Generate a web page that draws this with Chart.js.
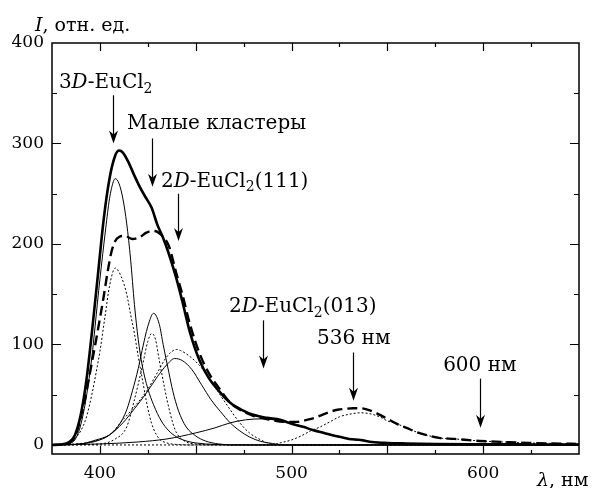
<!DOCTYPE html>
<html lang="ru">
<head>
    <meta charset="UTF-8">
    <title>Спектр люминесценции EuCl2</title>
    <script src="https://cdn.jsdelivr.net/npm/chart.js"></script>
    <style>
        html, body { margin: 0; padding: 0; background: #fff; }
        #chartContainer { width: 596px; height: 488px; }
    </style>
</head>
<body>
    <div id="chartContainer">
        <canvas id="myChart" width="596" height="488"></canvas>
    </div>
    <script>
        // wavelength (nm) and intensity (arb. units)

        // thick solid - measured spectrum
        const totalX = [375, 380, 384, 387, 390, 393, 396, 399, 402, 405, 408, 410, 412, 415, 418, 421, 424, 427, 430, 433, 436, 440, 443, 447, 452, 457, 462, 468, 474, 480, 487, 494, 500, 506, 511, 517, 523, 530, 536, 542, 550, 560, 575, 600, 625, 650];
        const totalY = [0, 0.5, 3, 10, 30, 65, 115, 170, 225, 265, 288, 293, 291, 281, 268, 256, 246, 236, 219, 206, 190, 165, 143, 112, 84, 66, 54, 42, 35, 30, 27, 25, 21, 18, 15, 12, 9, 6, 5, 3, 2, 1.5, 1, 0.7, 0.5, 0.3];

        // thick dashed - second spectrum
        const dashX = [375, 380, 386, 391, 396, 399, 402, 404, 406, 408, 410, 413, 417, 421, 424, 427, 430, 433, 436, 440, 443, 447, 452, 457, 462, 468, 474, 480, 489, 496, 503, 508, 512, 516, 520, 524, 528, 532, 536, 540, 545, 550, 555, 560, 565, 570, 577, 585, 598, 610, 623, 636, 650];
        const dashY = [0, 0.5, 5, 35, 84, 115, 148, 172, 192, 203, 207, 208, 205, 207, 211, 213, 212, 207, 198, 170, 150, 120, 91, 71, 57, 42, 34, 29, 25, 23, 23, 25, 27, 30, 33, 35, 36, 36.5, 36.5, 35, 31, 26, 21, 17, 13, 10, 7, 6, 4, 3, 2, 1.5, 1];

        // thin solid components
        const comp1X = [375, 385, 390, 395, 400, 403, 405, 407, 408, 410, 412, 414, 416, 418, 420, 422, 425, 428, 432, 436, 440, 445, 450, 460, 475, 650];
        const comp1Y = [0, 2, 20, 75, 165, 215, 245, 262, 265, 260, 245, 220, 185, 140, 105, 80, 56, 40, 24, 14, 8, 4, 2, 0.5, 0, 0];

        const comp2X = [375, 390, 400, 405, 410, 414, 417, 420, 422, 425, 428, 431, 433, 436, 438, 441, 445, 450, 455, 462, 470, 650];
        const comp2Y = [0, 1, 5, 10, 20, 35, 54, 76, 94, 118, 131, 120, 100, 72, 54, 34, 18, 9, 4, 1, 0, 0];

        const comp3X = [375, 390, 398, 405, 412, 418, 424, 430, 435, 439, 443, 448, 453, 458, 463, 468, 473, 478, 484, 490, 497, 650];
        const comp3Y = [0, 1, 5, 10, 22, 36, 51, 68, 80, 86, 84, 75, 60, 45, 33, 22, 14, 8, 3.5, 1.5, 0, 0];

        const comp4X = [375, 400, 420, 435, 450, 460, 468, 476, 485, 494, 503, 511, 520, 530, 540, 550, 565, 590, 650];
        const comp4Y = [0, 1, 3, 6, 12, 17, 22, 25, 26, 24, 20, 15, 10, 6, 3.5, 2, 1, 0.3, 0];

        // dotted components
        const dot1X = [375, 382, 386, 390, 393, 396, 398.5, 400, 402.6, 405, 408, 411, 414, 416, 418, 420, 422, 424, 426, 428, 431, 435, 440, 450, 650];
        const dot1Y = [0, 1, 5, 14, 28, 52, 77, 93, 127, 158, 176, 168, 150, 130, 111, 88, 67, 46, 28, 16, 6, 2, 0.5, 0, 0];

        const dot2X = [375, 400, 408, 414, 418, 422, 425, 427, 429, 431, 433, 435, 438, 440, 445, 450, 460, 650];
        const dot2Y = [0, 1, 6, 18, 45, 77, 103, 111, 105, 84, 64, 45, 22, 12, 3, 1, 0, 0];

        const dot3X = [375, 395, 405, 412, 418, 424.5, 430, 435, 440, 442, 447, 452, 457, 462, 468, 473, 478, 484, 489, 495, 650];
        const dot3Y = [0, 3, 10, 25, 38, 54, 72, 88, 95, 94, 88, 79, 67, 52, 35, 22, 12, 5, 1, 0, 0];

        const dot4X = [375, 490, 494, 500, 505, 510, 515, 520, 525, 530, 536, 541, 546, 550, 555, 560, 565, 570, 577, 585, 598, 610, 623, 636, 650];
        const dot4Y = [0, 0, 2, 5, 9, 14, 18, 23, 28, 30.5, 32, 31, 28, 24, 21, 17, 13, 10, 7, 6, 4, 3, 2, 1.5, 1];

        // axis ticks
        const xTicks = [400, 500, 600];
        const yTicks = [0, 100, 200, 300, 400];

        // labels with arrows (x, y of text start; arrow from yFrom down to yTo)
        const notes = [
            { x: 378.6, y: 355, parts: [['3'], ['D', 'i'], ['-EuCl'], ['2', 's']] },
            { x: 414.1, y: 314, parts: [['Малые кластеры']] },
            { x: 431.9, y: 257, parts: [['2'], ['D', 'i'], ['-EuCl'], ['2', 's'], ['(111)']] },
            { x: 467.4, y: 132, parts: [['2'], ['D', 'i'], ['-EuCl'], ['2', 's'], ['(013)']] },
            { x: 513.3, y: 100, parts: [['536 нм']] },
            { x: 579.1, y: 74, parts: [['600 нм']] }
        ];
        const arrows = [
            { x: 406.8, yFrom: 348, yTo: 300 },
            { x: 427.2, yFrom: 305, yTo: 257 },
            { x: 440.7, yFrom: 250, yTo: 203 },
            { x: 485.1, yFrom: 124, yTo: 76 },
            { x: 532.1, yFrom: 92, yTo: 44 },
            { x: 598.4, yFrom: 66, yTo: 17 }
        ];

        const FONT = '"DejaVu Serif", serif';

        function pts(xs, ys) {
            return xs.map((x, i) => ({ x: x, y: ys[i] }));
        }

        function line(xs, ys, width, dash, order) {
            return {
                data: pts(xs, ys),
                borderColor: '#000',
                borderWidth: width,
                borderDash: dash,
                pointRadius: 0,
                fill: false,
                cubicInterpolationMode: 'monotone',
                order: order
            };
        }

        // text with italic / subscript parts
        function drawRich(ctx, parts, x, y, size) {
            let cx = x;
            ctx.textBaseline = 'alphabetic';
            ctx.textAlign = 'left';
            for (const p of parts) {
                const sub = p[1] === 's';
                const s = sub ? Math.round(size * 0.7) : size;
                ctx.font = (p[1] === 'i' ? 'italic ' : '') + s + 'px ' + FONT;
                ctx.fillText(p[0], cx, sub ? y + size * 0.22 : y);
                cx += ctx.measureText(p[0]).width;
            }
        }

        const framePlugin = {
            id: 'frame',
            afterDatasetsDraw(chart) {
                const { ctx, chartArea: a, scales: { x, y } } = chart;
                ctx.save();
                ctx.strokeStyle = '#000';
                ctx.fillStyle = '#000';

                // box
                ctx.lineWidth = 1.5;
                ctx.strokeRect(a.left, a.top, a.right - a.left, a.bottom - a.top);

                // inward ticks on all four sides
                ctx.lineWidth = 1.2;
                ctx.beginPath();
                for (let v = 400; v < 650; v += 25) {
                    const len = v % 50 === 0 ? 8 : 4;
                    const px = Math.round(x.getPixelForValue(v)) + 0.5;
                    ctx.moveTo(px, a.bottom); ctx.lineTo(px, a.bottom - len);
                    ctx.moveTo(px, a.top); ctx.lineTo(px, a.top + len);
                }
                for (let v = 0; v < 400; v += 50) {
                    const len = v % 100 === 0 ? 9 : 5;
                    const py = Math.round(y.getPixelForValue(v)) + 0.5;
                    ctx.moveTo(a.left, py); ctx.lineTo(a.left + len, py);
                    ctx.moveTo(a.right, py); ctx.lineTo(a.right - len, py);
                }
                ctx.stroke();

                // arrows
                ctx.lineWidth = 1.2;
                for (const ar of arrows) {
                    const px = Math.round(x.getPixelForValue(ar.x)) + 0.5;
                    const y0 = y.getPixelForValue(ar.yFrom);
                    const y1 = y.getPixelForValue(ar.yTo);
                    ctx.beginPath();
                    ctx.moveTo(px, y0);
                    ctx.lineTo(px, y1 - 8);
                    ctx.stroke();
                    ctx.beginPath();
                    ctx.moveTo(px, y1);
                    ctx.lineTo(px - 4.5, y1 - 13);
                    ctx.lineTo(px, y1 - 9);
                    ctx.lineTo(px + 4.5, y1 - 13);
                    ctx.closePath();
                    ctx.fill();
                }

                // annotations
                for (const n of notes) {
                    drawRich(ctx, n.parts, x.getPixelForValue(n.x), y.getPixelForValue(n.y), 20);
                }

                // axis titles
                drawRich(ctx, [['I', 'i'], [', отн. ед.']], a.left - 17, a.top - 12, 19);
                drawRich(ctx, [['λ', 'i'], [', нм']], a.right - 42, a.bottom + 32, 19);
                ctx.restore();
            }
        };

        const ctx = document.getElementById('myChart').getContext('2d');
        const myChart = new Chart(ctx, {
            type: 'line',
            data: {
                datasets: [
                    line(totalX, totalY, 2.6, [], 0),
                    line(dashX, dashY, 2.4, [10, 5], 1),
                    line(comp1X, comp1Y, 1, [], 2),
                    line(comp2X, comp2Y, 1, [], 2),
                    line(comp3X, comp3Y, 1, [], 2),
                    line(comp4X, comp4Y, 1, [], 2),
                    line(dot1X, dot1Y, 1, [2, 2], 3),
                    line(dot2X, dot2Y, 1, [2, 2], 3),
                    line(dot3X, dot3Y, 1, [2, 2], 3),
                    line(dot4X, dot4Y, 1, [2, 2], 3)
                ]
            },
            options: {
                responsive: false,
                animation: false,
                layout: { padding: { top: 43, right: 17, left: 0, bottom: 0 } },
                plugins: {
                    legend: { display: false },
                    tooltip: { enabled: false }
                },
                scales: {
                    x: {
                        type: 'linear',
                        min: 375,
                        max: 650,
                        grid: { display: false, drawTicks: false, tickLength: 0 },
                        border: { display: false },
                        afterBuildTicks: (s) => { s.ticks = xTicks.map(v => ({ value: v })); },
                        afterFit: (s) => { s.height = 34; },
                        ticks: {
                            color: '#000',
                            padding: 9,
                            maxRotation: 0,
                            font: { family: FONT, size: 17 }
                        }
                    },
                    y: {
                        min: -9,
                        max: 400,
                        grid: { display: false, drawTicks: false, tickLength: 0 },
                        border: { display: false },
                        afterBuildTicks: (s) => { s.ticks = yTicks.map(v => ({ value: v })); },
                        afterFit: (s) => { s.width = 52; },
                        ticks: {
                            color: '#000',
                            padding: 8,
                            font: { family: FONT, size: 17 }
                        }
                    }
                }
            },
            plugins: [framePlugin]
        });
    </script>
</body>
</html>
